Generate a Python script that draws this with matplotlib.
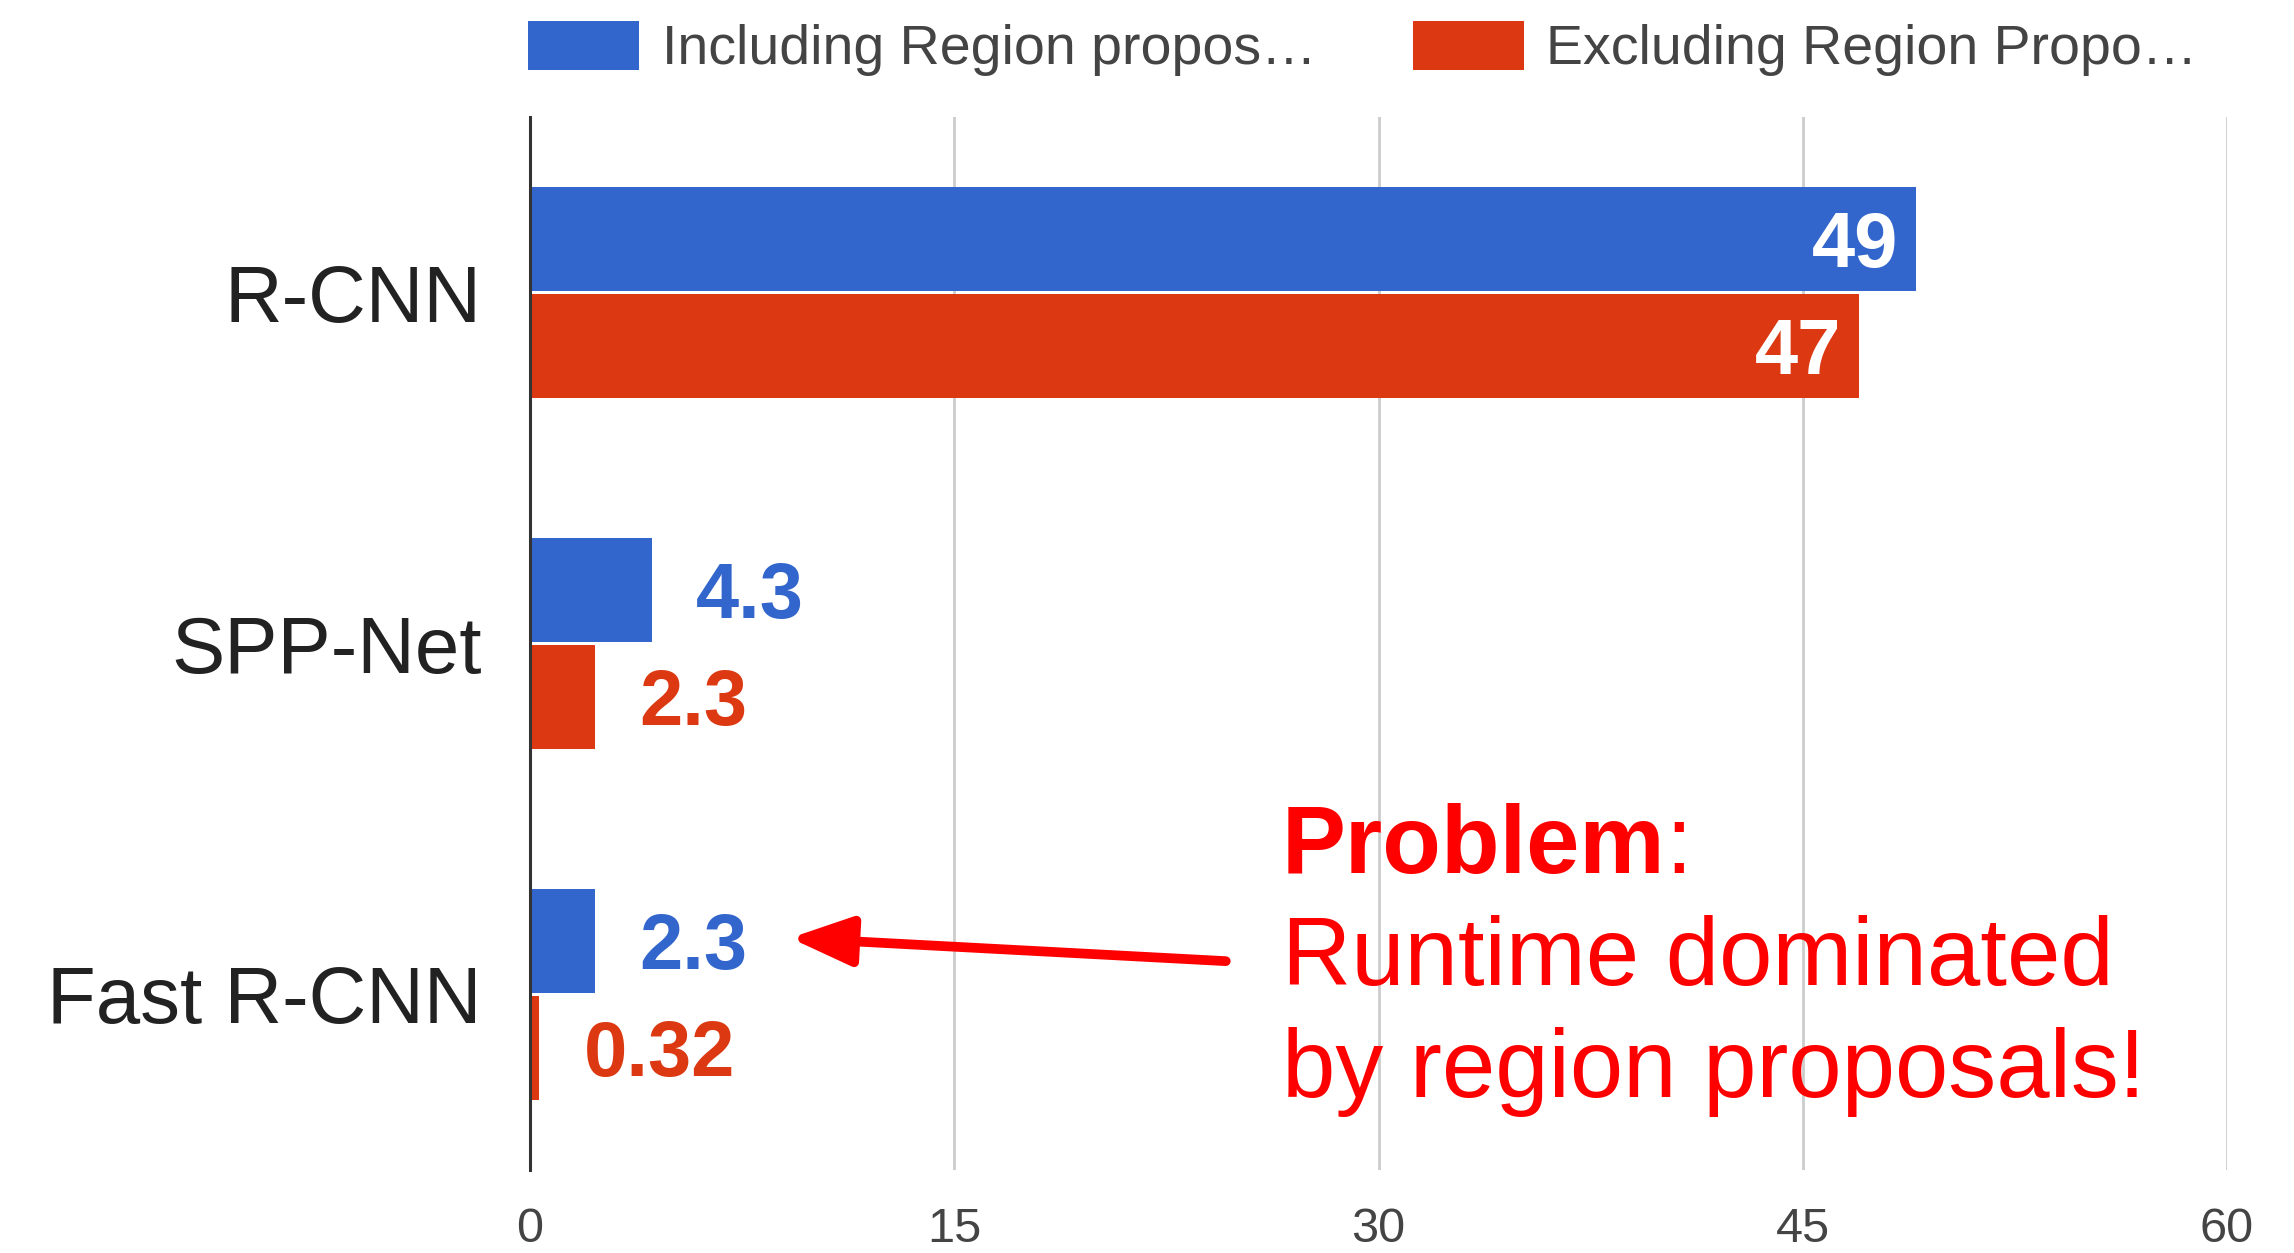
import matplotlib
matplotlib.use("Agg")
import matplotlib.pyplot as plt
from matplotlib import font_manager
import numpy as np

# Test-time runtime (seconds per image) for each detector
categories = ["R-CNN", "SPP-Net", "Fast R-CNN"]
series_names = ["Including Region propos\u2026", "Excluding Region Propo\u2026"]
including = [49, 4.3, 2.3]
excluding = [47, 2.3, 0.32]
xticks = [0, 15, 30, 45, 60]

BLUE = "#3366cc"
RED = "#dc3912"
NOTE_RED = "#ff0000"

plt.rcParams["font.family"] = ["Liberation Sans", "DejaVu Sans"]

installed = {f.name for f in font_manager.fontManager.ttflist}
if "Liberation Sans Narrow" in installed:
    note_family, note_size = ["Liberation Sans Narrow", "Liberation Sans"], 82
else:
    note_family, note_size = ["Liberation Sans", "DejaVu Sans"], 69

W, H = 2294, 1253
fig = plt.figure(figsize=(W / 100, H / 100), dpi=100)
ax = fig.add_axes([530 / W, 1 - 1170 / H, (2227 - 530) / W, (1170 - 117) / H])

y = np.arange(len(categories))
bh = 0.295
off = 0.152
b1 = ax.barh(y - off, including, height=bh, color=BLUE, label=series_names[0], zorder=3)
b2 = ax.barh(y + off, excluding, height=bh, color=RED, label=series_names[1], zorder=3)

ax.set_xlim(xticks[0], xticks[-1])
ax.set_ylim(len(categories) - 0.5, -0.5)
ax.set_xticks(xticks)
ax.set_xticklabels([str(t) for t in xticks])
ax.set_yticks(y)
ax.set_yticklabels(categories)

ax.set_axisbelow(True)
ax.xaxis.grid(True, color="#cccccc", lw=2)
for s in ("top", "right", "bottom"):
    ax.spines[s].set_visible(False)
ax.spines["left"].set_color("#333333")
ax.spines["left"].set_linewidth(2.2)
ax.spines["left"].set_zorder(4)

ax.tick_params(axis="x", length=0, labelsize=35, labelcolor="#444444", pad=27)
ax.tick_params(axis="y", length=0, labelsize=57.5, labelcolor="#222222", pad=35)

# value labels: inside (white) for long bars, outside (series colour) for short ones
em = 56
for vals, pos, col in ((including, y - off, BLUE), (excluding, y + off, RED)):
    for v, p in zip(vals, pos):
        txt = f"{v:g}"
        if v > 20:
            ax.annotate(txt, xy=(v, p), xytext=(-13, -0.358 * em), textcoords="offset points",
                        ha="right", va="baseline", fontsize=em, fontweight="bold",
                        color="white", zorder=5)
        else:
            ax.annotate(txt, xy=(v, p), xytext=(32, -0.358 * em), textcoords="offset points",
                        ha="left", va="baseline", fontsize=em, fontweight="bold",
                        color=col, zorder=5)

leg = ax.legend(loc="upper left", bbox_to_anchor=(528 / W, 1 - 21 / H),
                bbox_transform=fig.transFigure, ncol=2, frameon=False, fontsize=40,
                handlelength=2.0, handleheight=0.97, handletextpad=0.41,
                columnspacing=1.73, borderpad=0, borderaxespad=0, labelcolor="#444444")

# call-out text
tx = 1282 / W
t1 = fig.text(tx, 1 - 873 / H, "Problem", family=note_family, fontsize=note_size,
              fontweight="bold", color=NOTE_RED, va="baseline")
ax.annotate(":", xy=(1, 0), xycoords=t1, ha="left", va="bottom", family=note_family,
            fontsize=note_size, color=NOTE_RED)
fig.text(tx, 1 - 985 / H, "Runtime dominated", family=note_family, fontsize=note_size,
         color=NOTE_RED, va="baseline")
fig.text(tx, 1 - 1097 / H, "by region proposals!", family=note_family, fontsize=note_size,
         color=NOTE_RED, va="baseline")

ax.annotate("", xy=(9.2, 1.839), xytext=(24.6, 1.905),
            arrowprops=dict(arrowstyle="-|>,head_length=0.75,head_width=0.3",
                            mutation_scale=50, lw=7, color=NOTE_RED,
                            shrinkA=0, shrinkB=0),
            annotation_clip=False, zorder=6)

fig.savefig("out.png", dpi=100)
